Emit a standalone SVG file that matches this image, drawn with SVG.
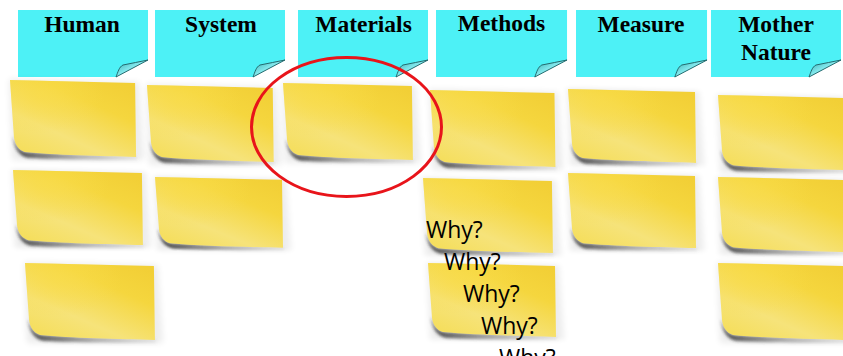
<svg xmlns="http://www.w3.org/2000/svg" xmlns:xlink="http://www.w3.org/1999/xlink" width="843" height="356" viewBox="0 0 843 356">
  <style>
    .tab-body { fill: #4DF1F6; }
    .tab-curl { fill: url(#curlGrad); stroke: #1E5E62; stroke-width: 0.9; }
    .tab-label { font-family: "Liberation Serif", "Times New Roman", serif; font-weight: bold; font-size: 23.5px; fill: #000; text-anchor: middle; }
    .why { font-family: "Open Sans", "Liberation Sans", sans-serif; font-size: 23px; fill: #000; }
    .ring { fill: none; stroke: #E8141A; stroke-width: 3; }
  </style>
  <defs>
    <linearGradient id="noteFill" x1="0.9" y1="0.05" x2="0.2" y2="1">
      <stop offset="0" stop-color="#F2CF36"/>
      <stop offset="0.3" stop-color="#F5D63E"/>
      <stop offset="0.7" stop-color="#F6E37A"/>
      <stop offset="1" stop-color="#F5DE5C"/>
    </linearGradient>
    <radialGradient id="noteGlow" cx="0.25" cy="0.2" r="0.5">
      <stop offset="0" stop-color="#F9DC4A" stop-opacity="0.7"/>
      <stop offset="1" stop-color="#F9DC4A" stop-opacity="0"/>
    </radialGradient>
    <linearGradient id="shadowGrad" x1="0" y1="0" x2="1" y2="0">
      <stop offset="0" stop-color="#2A2A2A" stop-opacity="0.85"/>
      <stop offset="0.5" stop-color="#555" stop-opacity="0.45"/>
      <stop offset="1" stop-color="#888" stop-opacity="0.15"/>
    </linearGradient>
    <linearGradient id="curlGrad" x1="0" y1="0" x2="1" y2="1">
      <stop offset="0" stop-color="#2FA9AE"/>
      <stop offset="0.45" stop-color="#7FE6EA"/>
      <stop offset="1" stop-color="#E4FDFD"/>
    </linearGradient>
    <filter id="blurShadow" x="-10%" y="-30%" width="120%" height="160%">
      <feGaussianBlur stdDeviation="1.4"/>
    </filter>
    <filter id="blurHalo" x="-10%" y="-20%" width="120%" height="140%">
      <feGaussianBlur stdDeviation="3"/>
    </filter>

    <!-- yellow sticky note, 130 x 77, lifted bottom-left corner -->
    <g id="note">
      <path d="M-1,-1 L131,2 L136,80 L2,80 Z" fill="#000" opacity="0.07" filter="url(#blurHalo)"/>
      <path d="M3,56 C4,68 9,76 18,78 C55,80 100,80 129,80 L129,76 C92,75 45,74 15,72 C9,70 5,65 3,56 Z" fill="url(#shadowGrad)" filter="url(#blurShadow)"/>
      <path d="M0,0 L127,3 L128,77 C92,76 45,75 15,72 C9,70 5,65 4,57 Z" fill="url(#noteFill)"/>
      <path d="M0,0 L127,3 L128,77 C92,76 45,75 15,72 C9,70 5,65 4,57 Z" fill="url(#noteGlow)"/>
    </g>

    <!-- cyan category tab, 130 x 67, curled bottom-right corner -->
    <g id="tab">
      <path class="tab-body" d="M0,0 H130 V50 L98,67 H0 Z"/>
      <path class="tab-curl" d="M98,67 C100,62 101,57 105,55 C113,53 122,52 130,50 Z"/>
    </g>
  </defs>

  <rect width="843" height="356" fill="#FFFFFF"/>

  <!-- category headers -->
  <g id="hdr-human">
    <use xlink:href="#tab" transform="translate(18,10)"/>
    <text class="tab-label" x="82" y="32">Human</text>
  </g>
  <g id="hdr-system">
    <use xlink:href="#tab" transform="translate(155,10)"/>
    <text class="tab-label" x="221" y="32">System</text>
  </g>
  <g id="hdr-materials">
    <use xlink:href="#tab" transform="translate(298,10)"/>
    <text class="tab-label" x="363.5" y="32">Materials</text>
  </g>
  <g id="hdr-methods">
    <use xlink:href="#tab" transform="translate(436,10) scale(1.008,1)"/>
    <text class="tab-label" x="501.5" y="31">Methods</text>
  </g>
  <g id="hdr-measure">
    <use xlink:href="#tab" transform="translate(576,10) scale(1.008,1)"/>
    <text class="tab-label" x="641" y="32">Measure</text>
  </g>
  <g id="hdr-nature">
    <use xlink:href="#tab" transform="translate(711,10)"/>
    <text class="tab-label" x="776" y="32">Mother</text>
    <text class="tab-label" x="776" y="60">Nature</text>
  </g>

  <!-- notes, row 1 -->
  <g id="note-human-1"><use xlink:href="#note" transform="translate(10,80) scale(0.985,1)"/></g>
  <g id="note-system-1"><use xlink:href="#note" transform="translate(147,85) scale(0.99,1)"/></g>
  <g id="note-materials-1"><use xlink:href="#note" transform="translate(283,83) scale(1.015,1)"/></g>
  <g id="note-methods-1"><use xlink:href="#note" transform="translate(430,90) scale(0.98,1)"/></g>
  <g id="note-measure-1"><use xlink:href="#note" transform="translate(568,89) scale(1,0.96)"/></g>
  <g id="note-nature-1"><use xlink:href="#note" transform="translate(718,95) scale(1,0.975)"/></g>

  <!-- notes, row 2 -->
  <g id="note-human-2"><use xlink:href="#note" transform="translate(13,170) scale(1.015,0.975)"/></g>
  <g id="note-system-2"><use xlink:href="#note" transform="translate(155,177) scale(1,0.92)"/></g>
  <g id="note-methods-2"><use xlink:href="#note" transform="translate(423,178) scale(1.015,0.975)"/></g>
  <g id="note-measure-2"><use xlink:href="#note" transform="translate(568,173) scale(1,0.975)"/></g>
  <g id="note-nature-2"><use xlink:href="#note" transform="translate(718,177) scale(1,0.975)"/></g>

  <!-- notes, row 3 -->
  <g id="note-human-3"><use xlink:href="#note" transform="translate(25,263) scale(1.015,1)"/></g>
  <g id="note-methods-3"><use xlink:href="#note" transform="translate(428,263) scale(1,0.96)"/></g>
  <g id="note-nature-3"><use xlink:href="#note" transform="translate(718,263) scale(1,1)"/></g>

  <!-- five whys cascade -->
  <g id="whys">
    <text class="why" x="426" y="238">Why?</text>
    <text class="why" x="444" y="270">Why?</text>
    <text class="why" x="463" y="302">Why?</text>
    <text class="why" x="481" y="334">Why?</text>
    <text class="why" x="499" y="366">Why?</text>
  </g>

  <!-- highlight ring around the Materials note -->
  <g id="connectors">
    <ellipse class="ring" cx="346.5" cy="127" rx="95" ry="69.5"/>
  </g>
</svg>
